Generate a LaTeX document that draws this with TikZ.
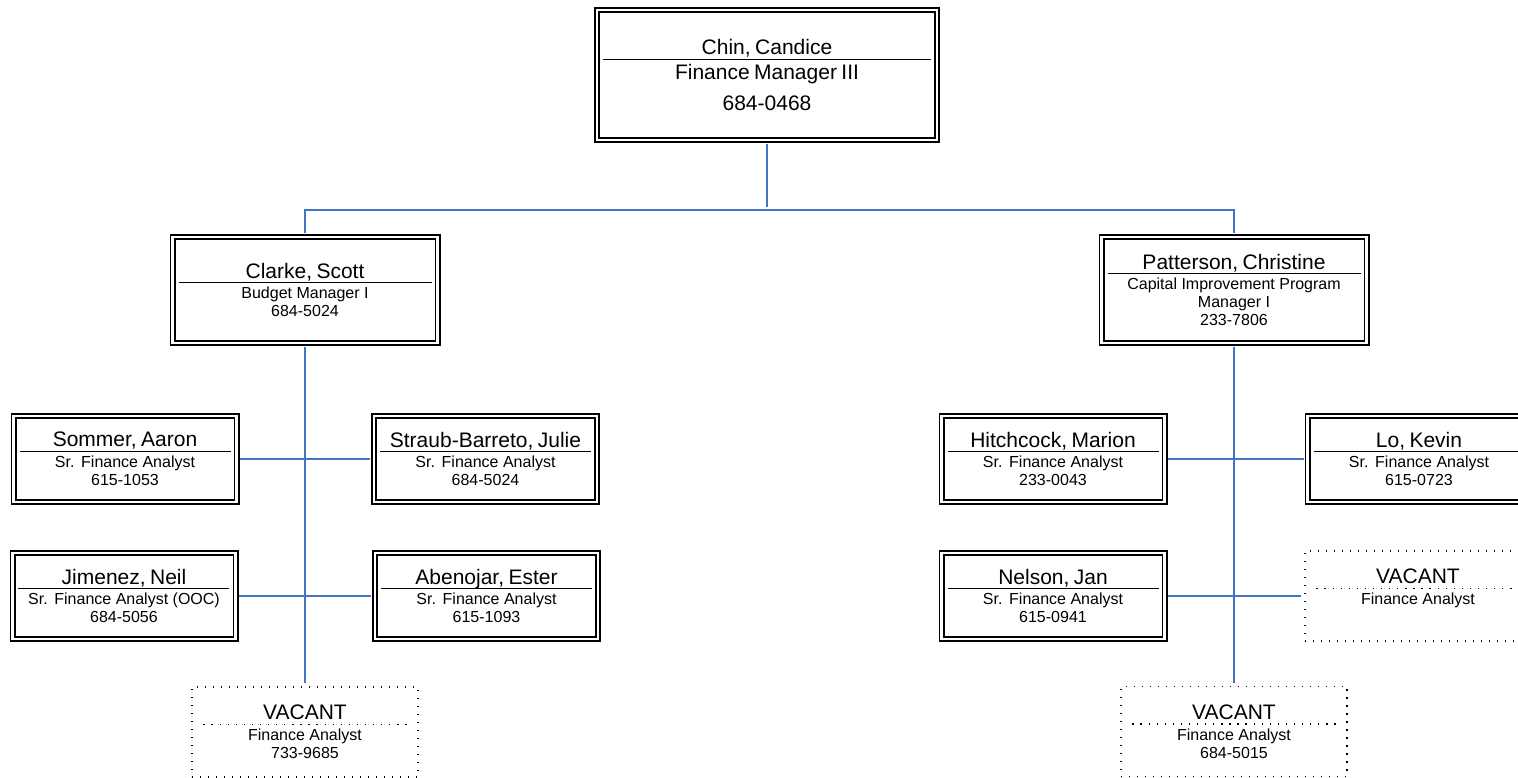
\documentclass[tikz,border=0pt]{standalone}
\usepackage{fontspec}
\setmainfont{Liberation Sans}
\definecolor{ink}{HTML}{000000}
\definecolor{linkblue}{HTML}{4472C4}
\setlength{\parindent}{0pt}
\newcommand{\namefont}{\fontsize{15.75}{18}\selectfont}
\newcommand{\titlefont}{\fontsize{12}{13.5}\selectfont}
\newcommand{\headfont}{\fontsize{15.75}{23}\selectfont}
\newcommand{\solidsplit}{\hbox to\hsize{\leaders\hrule height 0.95pt\hfill}}
\newcommand{\dotsplit}{\hbox to\hsize{\xleaders\hbox to 6pt{\hss\vrule width 1pt height 1pt\hss}\hfill}}
\newcommand{\card}[4]{%
  \hbox to\hsize{\hss\raisebox{0pt}[\height][0pt]{\namefont #3}\hss}\par
  \nointerlineskip\vskip 3pt
  #1\par
  \nointerlineskip\vskip 3pt
  {#2#4\par}}
\newcommand{\filled}[3][\titlefont]{\card{\solidsplit}{#1}{#2}{#3}}
\newcommand{\vacant}[1]{\card{\dotsplit}{\titlefont}{VACANT}{#1}}
\tikzset{
  card/.style={draw=ink,line width=1.2pt,double=white,double distance=2.1pt,inner xsep=4.5pt,inner ysep=0pt,align=center},
  headbox/.style={card,text width=246pt,minimum height=97.5pt},
  mgrbox/.style={card,text width=189.75pt,minimum height=79.5pt},
  staffbox/.style={card,text width=158.25pt,minimum height=64.5pt},
  vacbox/.style={draw=ink,line width=1pt,dash pattern=on 1pt off 5pt,inner xsep=6pt,inner ysep=0pt,align=center,text width=157.5pt,minimum height=67.5pt},
  link/.style={draw=linkblue,line width=1.5pt,shorten <=2.2pt,shorten >=2.2pt}
}

\begin{document}
\begin{tikzpicture}[x=0.75pt,y=-0.75pt]
  \useasboundingbox (0,0) rectangle (1518,778);

  % manager and supervisors
  \node[headbox] (chin) at (767,75) {\filled[\headfont]{Chin, Candice}{Finance Manager III\\684-0468}};
  \node[mgrbox] (clarke) at (305,290) {\filled{Clarke, Scott}{Budget Manager I\\684-5024}};
  \node[mgrbox] (patterson) at (1234,290) {\filled{Patterson, Christine}{Capital Improvement Program\\Manager I\\233-7806}};

  % budget unit
  \node[staffbox] (sommer) at (125,459) {\filled{Sommer, Aaron}{Sr. Finance Analyst\\615-1053}};
  \node[staffbox] (straub) at (485.5,459) {\filled{Straub-Barreto, Julie}{Sr. Finance Analyst\\684-5024}};
  \node[staffbox] (jimenez) at (124,596) {\filled{Jimenez, Neil}{Sr. Finance Analyst (OOC)\\684-5056}};
  \node[staffbox] (abenojar) at (486.5,596) {\filled{Abenojar, Ester}{Sr. Finance Analyst\\615-1093}};
  \node[vacbox] (vacantL) at (305,732) {\vacant{Finance Analyst\\733-9685}};

  % CIP unit
  \node[staffbox] (hitchcock) at (1053,459) {\filled{Hitchcock, Marion}{Sr. Finance Analyst\\233-0043}};
  \node[staffbox] (lo) at (1419,459) {\filled{Lo, Kevin}{Sr. Finance Analyst\\615-0723}};
  \node[staffbox] (nelson) at (1053,596) {\filled{Nelson, Jan}{Sr. Finance Analyst\\615-0941}};
  \node[vacbox] (vacantM) at (1418,596) {\vacant{Finance Analyst\\\vphantom{0}}};
  \node[vacbox] (vacantR) at (1234,731.5) {\vacant{Finance Analyst\\684-5015}};

  \coordinate (bus) at (767,210);
  \draw[link] (chin.south) -- (bus);
  \draw[link] (clarke.north) |- (bus) -| (patterson.north);
  \draw[link] (clarke.south) -- (vacantL.north);
  \draw[link] (patterson.south) -- (vacantR.north);
  \draw[link] (sommer.east) -- (straub.west);
  \draw[link] (jimenez.east) -- (abenojar.west);
  \draw[link] (hitchcock.east) -- (lo.west);
  \draw[link] (nelson.east) -- (vacantM.west);
\end{tikzpicture}
\end{document}
